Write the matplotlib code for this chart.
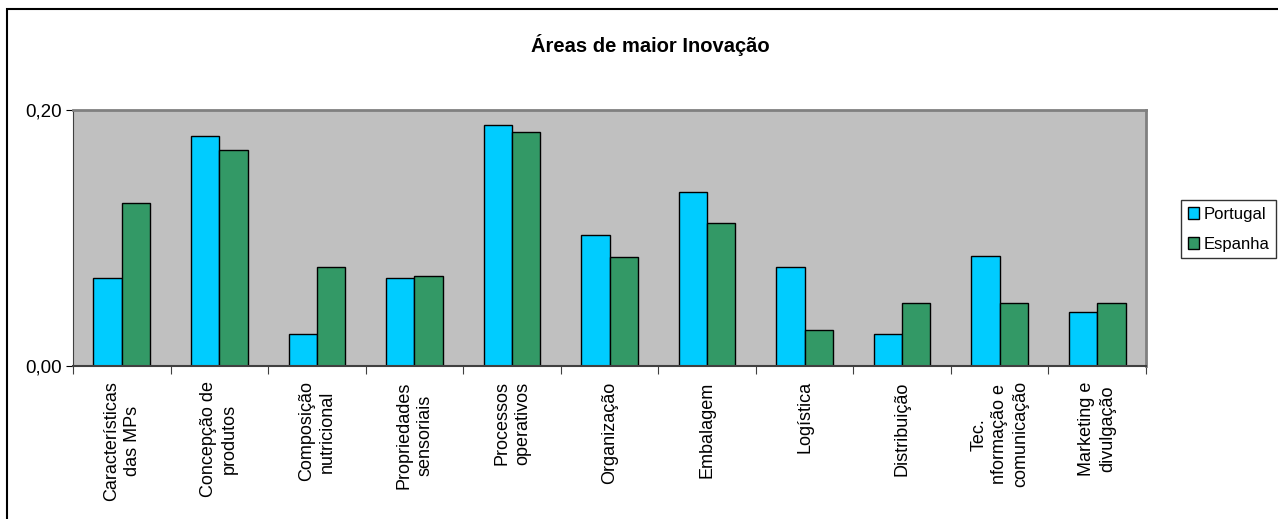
import matplotlib
matplotlib.use("Agg")
import matplotlib.pyplot as plt
from matplotlib.patches import Rectangle
from matplotlib.ticker import FuncFormatter
import numpy as np

plt.rcParams['font.family'] = ['Liberation Sans', 'DejaVu Sans']

categorias = ["Características\ndas MPs", "Concepção de\nprodutos", "Composição\nnutricional",
              "Propriedades\nsensoriais", "Processos\noperativos", "Organização", "Embalagem",
              "Logística", "Distribuição", "Tec.\nnformação e\ncomunicação", "Marketing e\ndivulgação"]
portugal = [0.069, 0.180, 0.025, 0.069, 0.188, 0.102, 0.136, 0.077, 0.025, 0.086, 0.042]
espanha = [0.127, 0.169, 0.077, 0.070, 0.183, 0.085, 0.112, 0.028, 0.049, 0.049, 0.049]

fig = plt.figure(figsize=(12.78, 5.19), dpi=100)
ax = fig.add_axes([73/1278, 1 - 366/519, (1146-73)/1278, (366-110)/519])

x = np.arange(len(categorias))
w = 0.29
ax.bar(x - w/2, portugal, w, color="#00CCFF", edgecolor="black", linewidth=1, label="Portugal")
ax.bar(x + w/2, espanha, w, color="#339966", edgecolor="black", linewidth=1, label="Espanha")

ax.set_facecolor("#C0C0C0")
ax.set_xlim(-0.5, len(categorias) - 0.5)
ax.set_ylim(0, 0.20)
ax.set_yticks([0, 0.20])
ax.yaxis.set_major_formatter(FuncFormatter(lambda v, p: f"{v:.2f}".replace(".", ",")))
ax.tick_params(axis='y', labelsize=13.5, length=5, direction='out', pad=3)

# ticks between the categories, labels drawn as text
ax.set_xticks(np.arange(len(categorias) + 1) - 0.5)
ax.set_xticklabels([])
ax.tick_params(axis='x', length=6, direction='out', color="#404040")
for i, c in enumerate(categorias):
    ax.text(i, -0.012, c, rotation=90, ha='center', va='top', multialignment='center',
            fontsize=13, linespacing=1.3, transform=ax.transData)

for s in ['top', 'right']:
    ax.spines[s].set_color("#808080")
    ax.spines[s].set_linewidth(2)
ax.spines['left'].set_color("#404040")
ax.spines['bottom'].set_color("#404040")
ax.spines['bottom'].set_linewidth(1.5)

leg = ax.legend(loc='center left', bbox_to_anchor=(1181/1278, 1 - 229/519),
                bbox_transform=fig.transFigure, fontsize=12, frameon=True, fancybox=False,
                handlelength=0.7, handleheight=0.7, handletextpad=0.25, borderpad=0.4,
                labelspacing=0.9, borderaxespad=0)
leg.get_frame().set_edgecolor("black")
leg.get_frame().set_linewidth(1)

fig.text(650/1278, 1 - 45/519, "Áreas de maior Inovação", ha='center', va='center',
         fontsize=14.5, fontweight='bold')

fig.patches.append(Rectangle((7/1278, -0.1), 1.2, 1 - 9/519 + 0.1, transform=fig.transFigure,
                             fill=False, edgecolor='black', linewidth=1.5))

fig.savefig("out.png", dpi=100)
